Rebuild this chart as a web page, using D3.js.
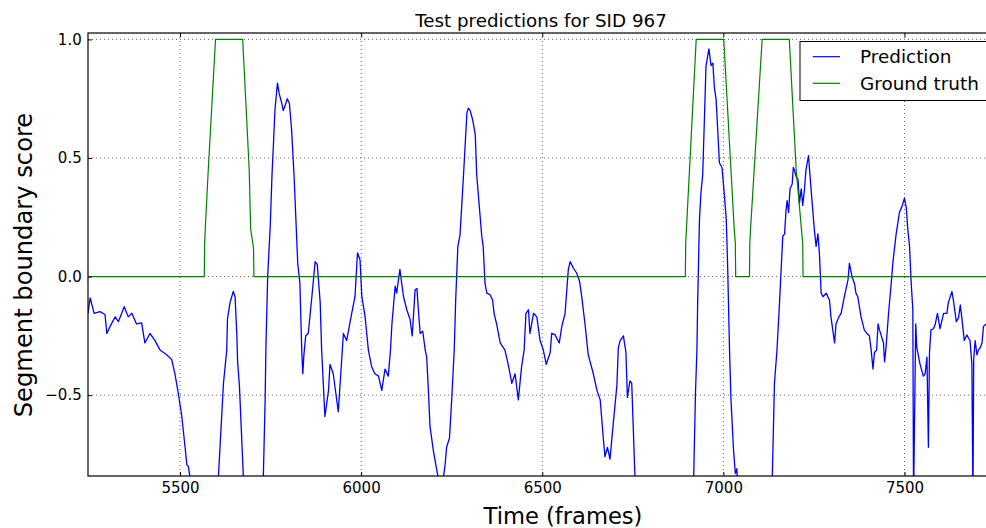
<!DOCTYPE html>
<html>
<head>
<meta charset="utf-8">
<script src="https://cdn.jsdelivr.net/npm/d3@7"></script>
<style>
  body { margin: 0; background: #fff; }
  svg { display: block; font-family: "DejaVu Sans", sans-serif; }
</style>
</head>
<body>
<div id="chart"></div>
<script>
// Prediction curve: frame number and score
const predFrames = [
  5246, 5252, 5263, 5279, 5293, 5298, 5307, 5321, 5330, 5346, 5357, 5367, 5380, 5394, 5403, 5417,
  5431, 5445, 5463, 5477, 5486, 5495, 5505, 5514, 5519, 5523, 5528, 5541, 5569, 5597, 5606, 5615,
  5620, 5629, 5631, 5638, 5647, 5652, 5657, 5659, 5664, 5675, 5693, 5710, 5730, 5735, 5737, 5742,
  5749, 5754, 5758, 5762, 5769, 5774, 5781, 5785, 5790, 5796, 5802, 5808, 5815, 5825, 5831, 5836,
  5839, 5842, 5847, 5854, 5864, 5873, 5879, 5887, 5891, 5900, 5910, 5914, 5923, 5937, 5951, 5960,
  5974, 5983, 5990, 5997, 6002, 6011, 6020, 6029, 6038, 6048, 6057, 6066, 6075, 6081, 6085, 6094,
  6098, 6107, 6117, 6126, 6135, 6141, 6149, 6154, 6158, 6163, 6170, 6177, 6181, 6186, 6190, 6199,
  6207, 6213, 6221, 6227, 6232, 6236, 6244, 6250, 6257, 6261, 6267, 6273, 6282, 6292, 6296, 6301,
  6308, 6315, 6319, 6333, 6337, 6342, 6347, 6356, 6363, 6367, 6374, 6384, 6397, 6406, 6416, 6425,
  6434, 6443, 6450, 6455, 6462, 6466, 6476, 6485, 6494, 6503, 6511, 6522, 6526, 6535, 6547, 6554,
  6563, 6572, 6577, 6586, 6595, 6603, 6609, 6618, 6627, 6641, 6651, 6660, 6669, 6673, 6680, 6687,
  6696, 6706, 6710, 6715, 6724, 6731, 6735, 6742, 6747, 6756, 6770, 6908, 6918, 6923, 6927, 6929,
  6934, 6938, 6943, 6952, 6960, 6966, 6971, 6975, 6980, 6985, 6989, 6996, 6998, 7003, 7008, 7012,
  7017, 7021, 7028, 7033, 7037, 7041, 7074, 7115, 7135, 7141, 7148, 7155, 7164, 7169, 7173, 7176,
  7180, 7184, 7190, 7193, 7196, 7201, 7206, 7210, 7215, 7219, 7224, 7228, 7235, 7242, 7251, 7256,
  7261, 7265, 7270, 7275, 7284, 7293, 7297, 7302, 7307, 7311, 7319, 7325, 7334, 7344, 7348, 7355,
  7362, 7366, 7371, 7380, 7389, 7396, 7403, 7408, 7413, 7417, 7423, 7427, 7431, 7436, 7442, 7445,
  7449, 7456, 7465, 7468, 7477, 7486, 7494, 7500, 7505, 7509, 7514, 7518, 7523, 7525, 7531, 7534,
  7543, 7552, 7557, 7562, 7566, 7569, 7573, 7580, 7585, 7591, 7598, 7608, 7617, 7621, 7631, 7635,
  7643, 7649, 7654, 7658, 7665, 7672, 7677, 7681, 7686, 7689, 7691, 7695, 7700, 7704, 7709, 7714,
  7718, 7725
]
const predScores = [
  -0.155, -0.09, -0.155, -0.148, -0.16, -0.24, -0.21, -0.17, -0.19, -0.127, -0.17, -0.155, -0.20, -0.195, -0.28, -0.24,
  -0.27, -0.31, -0.33, -0.35, -0.41, -0.49, -0.59, -0.72, -0.795, -0.80, -0.85, -0.95, -1.05, -0.95, -0.845, -0.59,
  -0.45, -0.31, -0.18, -0.11, -0.063, -0.085, -0.25, -0.36, -0.46, -0.85, -1.05, -1.05, -0.845, -0.52, -0.31, 0,
  0.21, 0.43, 0.56, 0.70, 0.816, 0.77, 0.73, 0.70, 0.72, 0.75, 0.73, 0.62, 0.42, 0.056, -0.03, -0.31,
  -0.41, -0.33, -0.25, -0.24, -0.085, 0.063, 0.05, -0.11, -0.31, -0.59, -0.48, -0.37, -0.41, -0.57, -0.24, -0.27,
  -0.155, -0.085, 0.1, 0.07, -0.085, -0.17, -0.31, -0.38, -0.41, -0.42, -0.48, -0.39, -0.42, -0.31, -0.2, -0.04,
  -0.07, 0.03, -0.085, -0.14, -0.18, -0.25, -0.056, -0.05, -0.14, -0.24, -0.23, -0.31, -0.34, -0.49, -0.63, -0.73,
  -0.80, -0.85, -0.9, -0.85, -0.79, -0.72, -0.68, -0.52, -0.31, -0.1, 0.127, 0.176, 0.41, 0.69, 0.71, 0.70,
  0.66, 0.60, 0.43, 0.17, 0.127, -0.03, -0.07, -0.077, -0.10, -0.155, -0.2, -0.28, -0.31, -0.37, -0.45, -0.41,
  -0.52, -0.38, -0.31, -0.155, -0.14, -0.24, -0.155, -0.17, -0.27, -0.31, -0.37, -0.32, -0.24, -0.245, -0.28, -0.21,
  -0.155, 0.03, 0.063, 0.035, 0.015, -0.02, -0.085, -0.2, -0.33, -0.41, -0.48, -0.52, -0.69, -0.76, -0.72, -0.77,
  -0.62, -0.46, -0.30, -0.27, -0.25, -0.32, -0.51, -0.44, -0.45, -0.85, -1.0, -1.0, -0.85, -0.49, -0.31, -0.11,
  0.24, 0.35, 0.43, 0.886, 0.96, 0.89, 0.90, 0.80, 0.745, 0.60, 0.48, 0.46, 0.43, 0.34, 0.24, 0.03,
  -0.31, -0.52, -0.73, -0.83, -0.81, -0.9, -1.05, -1.05, -0.85, -0.45, -0.31, -0.11, 0.17, 0.18, 0.28, 0.32,
  0.27, 0.37, 0.39, 0.46, 0.45, 0.42, 0.41, 0.31, 0.37, 0.30, 0.37, 0.45, 0.51, 0.37, 0.2, 0.127,
  0.18, 0.1, -0.07, -0.085, -0.07, -0.1, -0.17, -0.225, -0.28, -0.2, -0.17, -0.155, -0.085, -0.014, 0.056, 0.0,
  -0.03, -0.07, -0.085, -0.17, -0.225, -0.24, -0.25, -0.31, -0.39, -0.32, -0.31, -0.2, -0.225, -0.25, -0.28, -0.36,
  -0.3, -0.155, 0.0, 0.06, 0.18, 0.27, 0.30, 0.33, 0.29, 0.2, 0.127, -0.014, -0.14, -0.95, -0.2, -0.3,
  -0.37, -0.42, -0.41, -0.34, -0.72, -0.32, -0.225, -0.22, -0.2, -0.155, -0.22, -0.155, -0.155, -0.11, -0.063, -0.1,
  -0.19, -0.175, -0.12, -0.17, -0.27, -0.246, -0.26, -0.27, -0.37, -0.95, -0.35, -0.27, -0.33, -0.31, -0.30, -0.28,
  -0.21, -0.2
]

// Ground truth boundaries
const truthFrames = [5246, 5567, 5568, 5570, 5578, 5598, 5673, 5691, 5695, 5703, 5704,
  6895, 6896, 6898, 6925, 7001, 7030, 7033, 7034, 7072, 7073, 7075, 7107, 7182, 7201, 7219, 7220, 7725]
const truthScores = [0, 0, 0.14, 0.21, 0.45, 1, 1, 0.45, 0.2, 0.12, 0,
  0, 0.14, 0.2, 1, 1, 0.2, 0.14, 0, 0, 0.14, 0.2, 1, 1, 0.45, 0.14, 0, 0]

const xTicks = [5500, 6000, 6500, 7000, 7500]
const yTicks = [-0.5, 0.0, 0.5, 1.0]
const seriesNames = ['Prediction', 'Ground truth']
const seriesColors = ['#0000ff', '#008000']

const width = 986
const height = 528
const margin = { top: 33, right: 0, bottom: 52, left: 88 }

const svg = d3.select('#chart').append('svg')
  .attr('width', width)
  .attr('height', height)

const x = d3.scaleLinear().domain([5246, 7725]).range([margin.left, width - margin.right])
const y = d3.scaleLinear().domain([-0.841, 1.027]).range([height - margin.bottom, margin.top])

const plotW = width - margin.right - margin.left
const plotH = height - margin.bottom - margin.top

svg.append('defs').append('clipPath').attr('id', 'clip')
  .append('rect')
  .attr('x', margin.left).attr('y', margin.top)
  .attr('width', plotW).attr('height', plotH)

// dotted grid
const grid = svg.append('g')
grid.selectAll('.gx').data(xTicks).join('line')
  .attr('x1', d => x(d)).attr('x2', d => x(d))
  .attr('y1', margin.top).attr('y2', margin.top + plotH)
grid.selectAll('.gy').data(yTicks).join('line')
  .attr('x1', margin.left).attr('x2', margin.left + plotW)
  .attr('y1', d => y(d)).attr('y2', d => y(d))
grid.selectAll('line')
  .attr('stroke', '#444')
  .attr('stroke-width', 0.8)
  .attr('stroke-dasharray', '1,3')

const line = d3.line().x(d => x(d[0])).y(d => y(d[1]))

const plot = svg.append('g').attr('clip-path', 'url(#clip)')
plot.append('path')
  .datum(predFrames.map((f, i) => [f, predScores[i]]))
  .attr('d', line)
  .attr('fill', 'none')
  .attr('stroke', seriesColors[0])
  .attr('stroke-width', 1.3)
  .attr('stroke-linejoin', 'round')
plot.append('path')
  .datum(truthFrames.map((f, i) => [f, truthScores[i]]))
  .attr('d', line)
  .attr('fill', 'none')
  .attr('stroke', seriesColors[1])
  .attr('stroke-width', 1.2)

// axes, ticks pointing inward
svg.append('g')
  .attr('transform', `translate(0,${margin.top + plotH})`)
  .call(d3.axisBottom(x).tickValues(xTicks).tickSize(-4).tickSizeOuter(0).tickPadding(6.5).tickFormat(d3.format('d')))
svg.append('g')
  .attr('transform', `translate(0,${margin.top})`)
  .call(d3.axisTop(x).tickValues(xTicks).tickSize(-4).tickSizeOuter(0).tickFormat(''))
svg.append('g')
  .attr('transform', `translate(${margin.left},0)`)
  .call(d3.axisLeft(y).tickValues(yTicks).tickSize(-4).tickSizeOuter(0).tickPadding(6.3).tickFormat(d3.format('.1f')))

svg.selectAll('.domain').remove()
svg.selectAll('.tick line').attr('stroke', '#000')
svg.selectAll('.tick text')
  .attr('fill', '#000')
  .style('font-family', '"DejaVu Sans", sans-serif')
  .style('font-size', '15px')

// frame
svg.append('rect')
  .attr('x', margin.left).attr('y', margin.top)
  .attr('width', plotW + 10).attr('height', plotH)
  .attr('fill', 'none')
  .attr('stroke', '#000')
  .attr('stroke-width', 1.2)

// title and labels
svg.append('text')
  .attr('x', 541).attr('y', 26.5)
  .attr('text-anchor', 'middle')
  .style('font-size', '18.3px')
  .text('Test predictions for SID 967')

svg.append('text')
  .attr('x', 563).attr('y', 524)
  .attr('text-anchor', 'middle')
  .style('font-size', '22.6px')
  .text('Time (frames)')

svg.append('text')
  .attr('transform', 'translate(32,265) rotate(-90)')
  .attr('text-anchor', 'middle')
  .style('font-size', '24.2px')
  .text('Segment boundary score')

// legend
const legend = svg.append('g').attr('transform', 'translate(800,41.5)')
legend.append('rect')
  .attr('width', 200).attr('height', 59)
  .attr('fill', '#fff')
  .attr('stroke', '#000')
  .attr('stroke-width', 1)
seriesNames.forEach((name, i) => {
  const ly = 15.2 + i * 26.6
  legend.append('line')
    .attr('x1', 12.7).attr('x2', 40)
    .attr('y1', ly).attr('y2', ly)
    .attr('stroke', seriesColors[i])
    .attr('stroke-width', 1.2)
  legend.append('text')
    .attr('x', 60).attr('y', ly + 6.6)
    .style('font-size', '18.4px')
    .text(name)
})
</script>
</body>
</html>
